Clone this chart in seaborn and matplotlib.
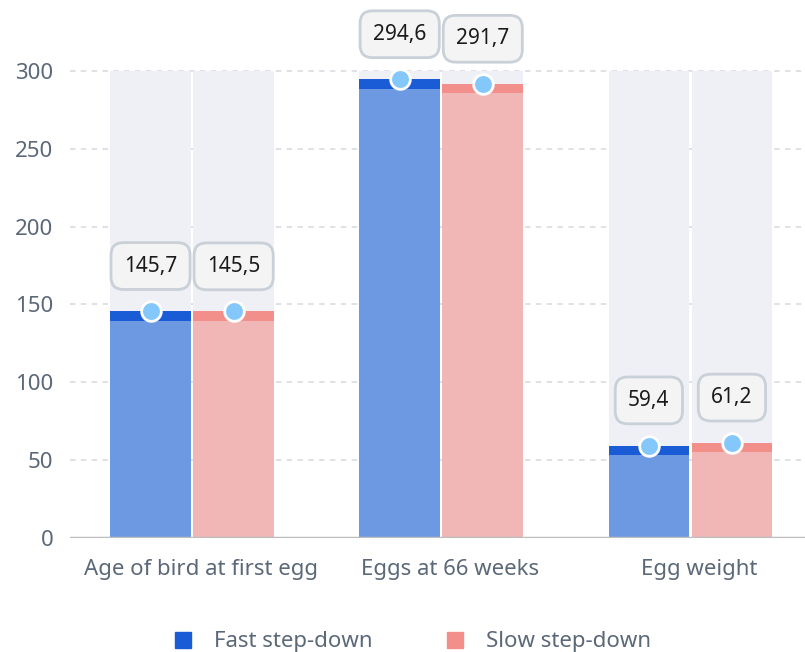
import seaborn as sns
import matplotlib.pyplot as plt
import matplotlib.transforms as mtransforms
import pandas as pd
from matplotlib.patches import Rectangle
from matplotlib.lines import Line2D

categories = ['Age of bird at first egg', 'Eggs at 66 weeks', 'Egg weight']
fast = [145.7, 294.6, 59.4]
slow = [145.5, 291.7, 61.2]
series = ['Fast step-down', 'Slow step-down']
labels_fast = ['145,7', '294,6', '59,4']
labels_slow = ['145,5', '291,7', '61,2']

cap_colors = {'Fast step-down': '#1a5bd6', 'Slow step-down': '#f28f8a'}
body_colors = {'Fast step-down': '#6d98e2', 'Slow step-down': '#f1b7b6'}

df = pd.DataFrame({
    'Category': categories * 2,
    'Value': fast + slow,
    'Series': [series[0]] * 3 + [series[1]] * 3,
    'Label': labels_fast + labels_slow,
})
bg = df.copy()
bg['Value'] = 300

sns.set_theme(style='white')
plt.rcParams['font.family'] = ['Noto Sans', 'DejaVu Sans']

fig = plt.figure(figsize=(8.05, 6.52), dpi=100)
ax = fig.add_axes([70 / 805, 114 / 652, 735 / 805, 538 / 652])

# gridlines
for v in [50, 100, 150, 200, 250, 300]:
    ax.axhline(v, color='#dcdee2', lw=1.3, ls=(0, (3, 3)), zorder=0)

sns.barplot(data=bg, x='Category', y='Value', hue='Series',
            palette={s: '#eff0f5' for s in series}, width=0.667, gap=0.03,
            saturation=1, legend=False, ax=ax, zorder=1, linewidth=0)
n_bg = len(ax.patches)
sns.barplot(data=df, x='Category', y='Value', hue='Series',
            palette=body_colors, width=0.667, gap=0.03,
            saturation=1, legend=False, ax=ax, zorder=2, linewidth=0)

cap = 6
for p in ax.patches[n_bg:]:
    h = p.get_height()
    if h <= 0:
        continue
    x0 = p.get_x()
    w = p.get_width()
    xc = x0 + w / 2
    ci = int(round(xc))
    ser = series[0] if xc < ci else series[1]
    row = df[(df['Category'] == categories[ci]) & (df['Series'] == ser)].iloc[0]
    ax.add_patch(Rectangle((x0, h - cap), w, cap, color=cap_colors[ser],
                           lw=0, zorder=3))
    ax.scatter([xc], [h], s=200, color='#84c8fb', edgecolor='white',
               linewidth=2, zorder=5)
    ax.text(xc, h + 29, row['Label'], ha='center', va='center', fontsize=15,
            color='#1a1a1a', zorder=6,
            bbox=dict(boxstyle='round,pad=0.62,rounding_size=0.6',
                      fc='#f4f4f5', ec='#c9d0d8', lw=2))

ax.axhline(0, color='#bdbdbd', lw=2.5, zorder=4)
ax.set_ylim(0, 345.6)
ax.set_xlim(-0.49, 2.46)
ax.set_yticks([0, 50, 100, 150, 200, 250, 300])
ax.tick_params(axis='y', labelsize=16, colors='#5b6878', pad=12, length=0)
ax.tick_params(axis='x', labelsize=16, colors='#5b6878', pad=15, length=0)
shift = mtransforms.ScaledTranslation(9 / 100, 0, fig.dpi_scale_trans)
for lab in ax.get_xticklabels():
    lab.set_transform(lab.get_transform() + shift)
ax.set_xlabel('')
ax.set_ylabel('')
for s in ax.spines.values():
    s.set_visible(False)

handles = [Line2D([], [], marker='s', ls='', markersize=11,
                  color=cap_colors[s]) for s in series]
fig.legend(handles, series, loc='center', bbox_to_anchor=(0.504, 10 / 652),
           ncol=2, frameon=False, fontsize=16, labelcolor='#5b6878',
           handletextpad=0.4, columnspacing=2.7)

plt.savefig('out.png', dpi=100)
